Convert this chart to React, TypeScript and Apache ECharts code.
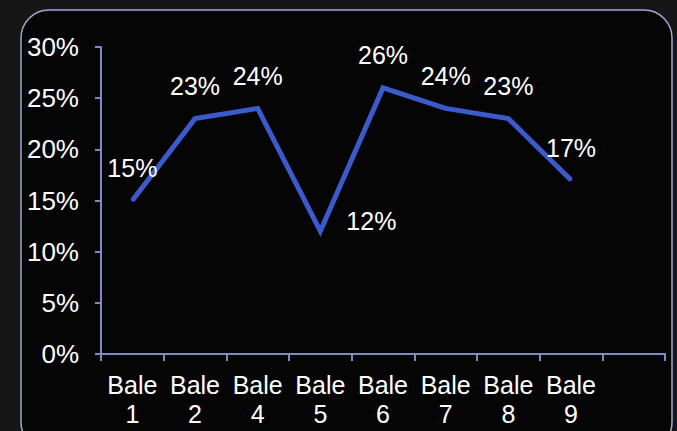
import React, { useEffect, useRef } from "react";
import * as echarts from "echarts";

const categories = ["Bale\n1", "Bale\n2", "Bale\n4", "Bale\n5", "Bale\n6", "Bale\n7", "Bale\n8", "Bale\n9", ""];
const values = [15, 23, 24, 12, 26, 24, 23, 17];
const yTicks = [0, 5, 10, 15, 20, 25, 30];

export default function App() {
  const ref = useRef<HTMLDivElement>(null);
  useEffect(() => {
    if (!ref.current) return;
    const chart = echarts.init(ref.current, undefined, { renderer: "svg" });
    const font = "Liberation Sans, Arial, sans-serif";
    const axisColor = "#8289c6";
    chart.setOption({
      animation: false,
      backgroundColor: "#161616",
      graphic: [
        {
          type: "rect",
          shape: { x: 21, y: 10, width: 651, height: 440, r: 28 },
          style: { fill: "#050505", stroke: "#a3a9d6", lineWidth: 1.5 },
          z: -10,
        },
      ],
      grid: { left: 101, right: 12, top: 47, bottom: 77, containLabel: false },
      xAxis: {
        type: "category",
        data: categories,
        boundaryGap: true,
        axisLine: { lineStyle: { color: axisColor, width: 2 } },
        axisTick: { show: true, length: 7, lineStyle: { color: axisColor, width: 2 } },
        axisLabel: {
          color: "#ffffff",
          fontSize: 25,
          fontFamily: font,
          lineHeight: 29,
          margin: 16,
          interval: 0,
        },
        splitLine: { show: false },
      },
      yAxis: {
        type: "value",
        min: yTicks[0],
        max: yTicks[yTicks.length - 1],
        interval: 5,
        axisLine: { show: true, lineStyle: { color: axisColor, width: 2 } },
        axisTick: { show: true, length: 6, lineStyle: { color: axisColor, width: 2 } },
        axisLabel: {
          color: "#ffffff",
          fontSize: 26,
          fontFamily: font,
          margin: 22,
          formatter: (v: number) => v + "%",
        },
        splitLine: { show: false },
      },
      series: [
        {
          type: "line",
          data: values.map((v, i) =>
            i === 3
              ? {
                  value: v,
                  label: { position: [27, -9], align: "left", verticalAlign: "middle" },
                }
              : v
          ),
          showSymbol: true,
          symbol: "circle",
          symbolSize: 2,
          itemStyle: { color: "#3b5bcd", borderWidth: 0 },
          lineStyle: { color: "#3b5bcd", width: 5, join: "miter" },
          label: {
            show: true,
            position: "top",
            distance: 19,
            color: "#ffffff",
            fontSize: 25,
            fontFamily: font,
            formatter: (p: any) => p.value + "%",
          },
          labelLayout: { hideOverlap: false },
        },
      ],
    });
    return () => chart.dispose();
  }, []);
  return (
    <div
      ref={ref}
      style={{ position: "fixed", left: 0, top: 0, width: 677, height: 431 }}
    />
  );
}
